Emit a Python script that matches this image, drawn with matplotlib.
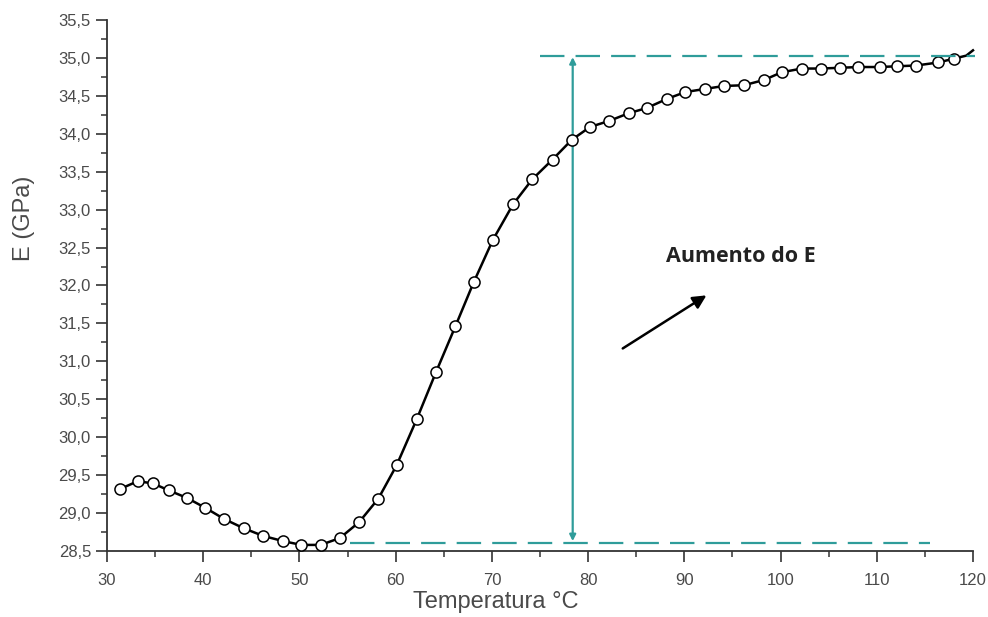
import numpy as np
import matplotlib.pyplot as plt
from matplotlib.ticker import MultipleLocator, FuncFormatter

# Módulo de elasticidade em função da temperatura
temperatura = [31.4, 33.2, 34.8, 36.4, 38.3, 40.2, 42.2, 44.2, 46.2, 48.3, 50.2, 52.2,
               54.2, 56.2, 58.2, 60.1, 62.2, 64.2, 66.2, 68.1, 70.1, 72.2, 74.2, 76.3,
               78.3, 80.2, 82.2, 84.2, 86.1, 88.2, 90.1, 92.1, 94.1, 96.2, 98.3, 100.1,
               102.2, 104.2, 106.2, 108.1, 110.3, 112.1, 114.1, 116.4, 118.0]
modulo = [29.32, 29.42, 29.39, 29.30, 29.20, 29.07, 28.92, 28.80, 28.70, 28.63, 28.58, 28.58,
          28.67, 28.88, 29.19, 29.63, 30.24, 30.86, 31.46, 32.04, 32.60, 33.07, 33.40, 33.66,
          33.92, 34.09, 34.17, 34.27, 34.34, 34.46, 34.55, 34.59, 34.63, 34.64, 34.71, 34.81,
          34.86, 34.86, 34.87, 34.88, 34.88, 34.89, 34.90, 34.94, 34.99]
# final da curva, sem marcador
temp_final = [119.3, 120.0]
mod_final = [35.03, 35.10]

E_min = 28.61
E_max = 35.03
x_seta = 78.4

cor = '#2f9c9a'
cinza = '#4a4a4a'

plt.rcParams['font.family'] = ['Liberation Sans', 'DejaVu Sans']

fig = plt.figure(figsize=(9.88, 6.17), dpi=100)
ax = fig.add_axes([0.1083, 0.107, 0.8765, 0.8606])

# linhas tracejadas de referência
ax.plot([55.3, 115.5], [E_min, E_min], color=cor, lw=1.6, dashes=(11, 5), zorder=4)
ax.plot([75.0, 120.2], [E_max, E_max], color=cor, lw=1.6, dashes=(11, 5), zorder=4,
        clip_on=False)

# seta dupla da variação
ax.annotate('', xy=(x_seta, E_min + 0.02), xytext=(x_seta, E_max - 0.02),
            arrowprops=dict(arrowstyle='<|-|>', color=cor, lw=1.6, mutation_scale=9,
                            shrinkA=0, shrinkB=0), zorder=3)

# curva
ax.plot(temperatura + temp_final, modulo + mod_final, color='black', lw=1.8, zorder=2,
        clip_on=False)
ax.plot(temperatura, modulo, 'o', ms=8, mfc='white', mec='black', mew=1.1, zorder=3,
        clip_on=False)

# anotação
ax.text(95.9, 32.38, 'Aumento do E', fontsize=15.5, fontweight='bold', color='#222222',
        family=['Open Sans', 'DejaVu Sans'], ha='center', va='center')
ax.annotate('', xy=(92.3, 31.87), xytext=(83.6, 31.17),
            arrowprops=dict(arrowstyle='-|>', color='black', lw=1.8, mutation_scale=20,
                            shrinkA=0, shrinkB=0))

ax.set_xlim(30, 120)
ax.set_ylim(28.5, 35.5)
ax.spines['top'].set_visible(False)
ax.spines['right'].set_visible(False)
ax.spines['left'].set_color('#333333')
ax.spines['bottom'].set_color('#333333')
ax.spines['left'].set_linewidth(1.3)
ax.spines['bottom'].set_linewidth(1.3)

ax.xaxis.set_major_locator(MultipleLocator(10))
ax.xaxis.set_minor_locator(MultipleLocator(5))
ax.yaxis.set_major_locator(MultipleLocator(0.5))
ax.yaxis.set_minor_locator(MultipleLocator(0.25))
ax.yaxis.set_major_formatter(FuncFormatter(lambda v, p: '{:.1f}'.format(v).replace('.', ',')))

ax.tick_params(which='major', direction='out', length=8, width=1.2, color='#333333',
               labelsize=12, labelcolor=cinza)
ax.tick_params(axis='x', which='major', pad=8)
ax.tick_params(which='minor', direction='out', length=4, width=1.1, color='#333333')

ax.set_xlabel('Temperatura °C', fontsize=17, color=cinza)
ax.set_ylabel('E (GPa)', fontsize=17, color=cinza)
ax.xaxis.set_label_coords(0.449, -0.075)
ax.yaxis.set_label_coords(-0.083, 0.627)

plt.savefig('out.png', dpi=100)
